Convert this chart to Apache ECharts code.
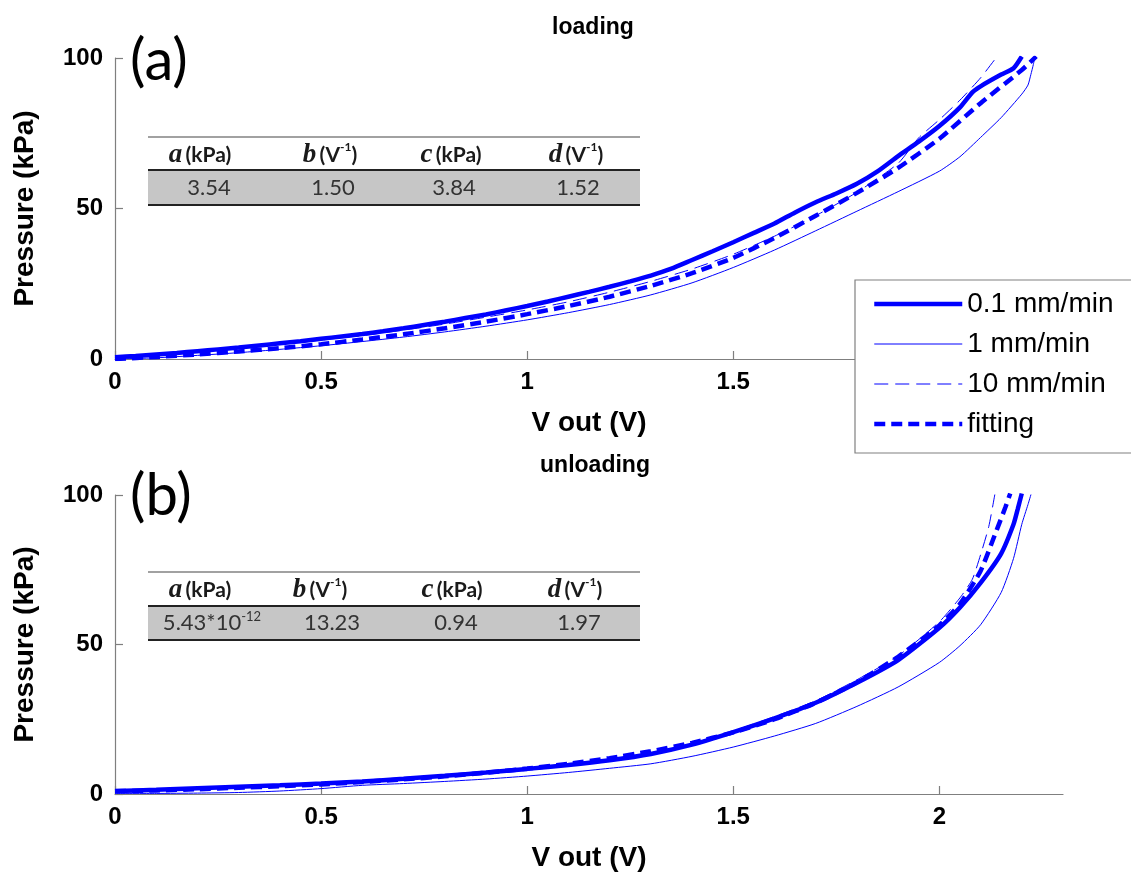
<!DOCTYPE html>
<html>
<head>
<meta charset="utf-8">
<script src="https://cdn.jsdelivr.net/npm/echarts@6/dist/echarts.min.js"></script>
<style>
  html, body { margin: 0; padding: 0; background: #fff; }
  #chart { width: 1131px; height: 873px; }
</style>
</head>
<body>
<div id="chart"></div>
<script>
// ---- Measured pressure vs. output voltage: [V out (V), Pressure (kPa)] ----
// (a) loading
const load01 = [[0,0.6],[0.05,1.0],[0.1,1.5],[0.15,2.0],[0.2,2.6],[0.25,3.2],[0.3,3.8],[0.35,4.5],[0.4,5.2],[0.45,5.9],[0.5,6.7],[0.55,7.5],[0.6,8.3],[0.65,9.2],[0.7,10.2],[0.75,11.3],[0.8,12.4],[0.85,13.6],[0.9,14.8],[0.95,16.2],[1.0,17.6],[1.05,19.1],[1.1,20.7],[1.15,22.3],[1.2,24.0],[1.25,25.8],[1.3,27.7],[1.35,30.0],[1.4,32.9],[1.45,35.8],[1.5,38.8],[1.55,41.9],[1.6,45.0],[1.65,48.7],[1.7,52.1],[1.75,55.0],[1.8,58.2],[1.85,62.3],[1.9,67.4],[1.95,72.2],[2.0,77.4],[2.05,83.6],[2.08,88.6],[2.1,90.6],[2.15,94.5],[2.18,96.6],[2.2,100.5]];
const load1 = [[0,0],[0.1,0.4],[0.2,1.2],[0.3,2.1],[0.4,3.2],[0.5,4.4],[0.6,5.8],[0.7,7.3],[0.8,9.0],[0.9,10.9],[1.0,13.0],[1.1,15.4],[1.2,18.1],[1.3,21.3],[1.4,25.3],[1.5,30.4],[1.6,36.2],[1.7,42.6],[1.8,49.1],[1.9,55.6],[2.0,62.4],[2.05,67.2],[2.1,73.6],[2.15,80.2],[2.2,88.0],[2.215,91.0],[2.222,94.5],[2.228,97.8],[2.232,100.5]];
const load10 = [[0,0.3],[0.1,1.2],[0.2,2.4],[0.3,3.6],[0.4,4.9],[0.5,6.3],[0.6,7.8],[0.7,9.6],[0.8,11.6],[0.9,13.9],[1.0,16.3],[1.1,19.0],[1.2,22.2],[1.3,25.8],[1.4,29.9],[1.5,34.8],[1.6,40.8],[1.7,47.6],[1.8,55.4],[1.9,65.0],[1.95,73.5],[2.0,79.5],[2.05,86.0],[2.1,93.4],[2.14,100.5]];
const loadFit = [[0,0],[0.1,0.7],[0.2,1.5],[0.3,2.5],[0.4,3.6],[0.5,4.9],[0.6,6.5],[0.7,8.2],[0.8,10.2],[0.9,12.4],[1.0,14.9],[1.1,17.6],[1.2,20.7],[1.3,24.3],[1.4,28.5],[1.5,33.6],[1.6,40.2],[1.7,47.6],[1.8,55.2],[1.9,63.5],[2.0,73.2],[2.1,85.0],[2.2,96.0],[2.235,100.5]];

// (b) unloading
const unload01 = [[0,1.0],[0.1,1.4],[0.2,1.9],[0.3,2.4],[0.4,2.9],[0.5,3.5],[0.6,4.2],[0.7,5.1],[0.8,6.1],[0.9,7.2],[1.0,8.4],[1.1,9.7],[1.2,11.3],[1.3,13.4],[1.4,16.5],[1.5,20.7],[1.6,25.3],[1.7,30.5],[1.8,37.2],[1.9,44.8],[2.0,55.6],[2.05,62.4],[2.1,70.6],[2.15,80.4],[2.18,90.2],[2.19,95.2],[2.2,100.5]];
const unload1 = [[0,0.2],[0.1,0.2],[0.2,0.3],[0.3,0.5],[0.4,1.0],[0.5,1.8],[0.6,2.9],[0.7,3.5],[0.8,4.2],[0.9,5.0],[1.0,6.0],[1.1,7.2],[1.2,8.6],[1.3,10.1],[1.4,12.6],[1.5,15.7],[1.6,19.4],[1.7,23.6],[1.8,29.3],[1.9,35.8],[2.0,44.0],[2.05,49.6],[2.1,56.6],[2.15,67.4],[2.18,78.8],[2.2,90.2],[2.215,96.8],[2.223,100.5]];
const unload10 = [[0,0.8],[0.1,1.3],[0.2,1.8],[0.3,2.3],[0.4,2.8],[0.5,3.4],[0.6,4.1],[0.7,5.0],[0.8,6.0],[0.9,7.1],[1.0,8.3],[1.1,9.7],[1.2,11.4],[1.3,13.6],[1.4,16.8],[1.5,21.1],[1.6,25.9],[1.7,31.2],[1.8,38.2],[1.9,46.2],[2.0,57.6],[2.05,65.6],[2.08,71.8],[2.1,80.0],[2.12,89.5],[2.135,100.5]];
const unloadFit = [[0,0.9],[0.1,1.2],[0.2,1.6],[0.3,2.1],[0.4,2.6],[0.5,3.2],[0.6,4.0],[0.7,4.9],[0.8,5.9],[0.9,7.1],[1.0,8.5],[1.1,10.1],[1.2,12.0],[1.3,14.3],[1.4,17.1],[1.5,20.6],[1.6,25.0],[1.7,30.5],[1.8,37.4],[1.9,45.9],[2.0,56.4],[2.05,63.6],[2.1,74.6],[2.14,88.6],[2.16,95.8],[2.172,100.5]];

// ---- Labels ----
const seriesNames = ['0.1 mm/min', '1 mm/min', '10 mm/min', 'fitting'];
const panelTitles = ['loading', 'unloading'];
const panelTags = ['(a)', '(b)'];
const xTicks = [0, 0.5, 1, 1.5, 2];
const yTicks = [0, 50, 100];
const paramSymbols = ['a', 'b', 'c', 'd'];
const paramUnits = ['kPa', 'V-1', 'kPa', 'V-1'];
const paramsLoading = ['3.54', '1.50', '3.84', '1.52'];
const paramsUnloading = ['5.43*10^-12', '13.23', '0.94', '1.97'];

const BLUE = '#0000ff';
const AXIS_GRAY = '#7f7f7f';
const SANS = 'Liberation Sans, Arial, sans-serif';
const CAL = 'Lato, "Open Sans", sans-serif';

// line styles per series
const styles = [
  { width: 4.5, type: 'solid' },
  { width: 1, type: 'solid' },
  { width: 1, type: [14, 7] },
  { width: 4.5, type: [11, 6] }
];

const grids = [
  { left: 115, top: 58, width: 948, height: 301 },
  { left: 115, top: 495, width: 948, height: 300 }
];

function xAxisFor(i) {
  return {
    type: 'value', gridIndex: i, min: 0, max: 2.3,
    axisLine: { show: true, onZero: false, lineStyle: { color: AXIS_GRAY, width: 1.2 } },
    axisTick: { show: true, inside: true, length: 8, customValues: xTicks, lineStyle: { color: AXIS_GRAY, width: 1.2 } },
    axisLabel: { customValues: xTicks, color: '#000', fontFamily: SANS, fontWeight: 'bold', fontSize: 24, margin: 11 },
    splitLine: { show: false },
    name: 'V out (V)', nameLocation: 'middle', nameGap: 50,
    nameTextStyle: { color: '#000', fontFamily: SANS, fontWeight: 'bold', fontSize: 28 }
  };
}
function yAxisFor(i) {
  return {
    type: 'value', gridIndex: i, min: 0, max: 100, interval: 50,
    axisLine: { show: true, onZero: false, lineStyle: { color: AXIS_GRAY, width: 1.2 } },
    axisTick: { show: true, inside: true, length: 8, customValues: yTicks, lineStyle: { color: AXIS_GRAY, width: 1.2 } },
    axisLabel: { customValues: yTicks, color: '#000', fontFamily: SANS, fontWeight: 'bold', fontSize: 24, margin: 12 },
    splitLine: { show: false },
    name: 'Pressure (kPa)', nameLocation: 'middle', nameGap: 76,
    nameTextStyle: { color: '#000', fontFamily: SANS, fontWeight: 'bold', fontSize: 28 }
  };
}

function lineSeries(name, data, gi, st) {
  return {
    type: 'line', name: name, data: data,
    xAxisIndex: gi, yAxisIndex: gi,
    symbol: 'none', showSymbol: false, smooth: 0.2, clip: true,
    lineStyle: { color: BLUE, width: st.width, type: st.type },
    itemStyle: { color: BLUE },
    emphasis: { disabled: true },
    animation: false
  };
}

const panelData = [
  [load01, load1, load10, loadFit],
  [unload01, unload1, unload10, unloadFit]
];
const series = [];
panelData.forEach((set, gi) => {
  set.forEach((d, k) => series.push(lineSeries(seriesNames[k], d, gi, styles[k])));
});

// ---- parameter tables ----
const richStyles = {
  v: { fontFamily: 'Liberation Serif, serif', fontStyle: 'italic', fontWeight: 'bold', fontSize: 27, lineHeight: 28, fill: '#1a1a1a', color: '#1a1a1a' },
  u: { fontFamily: CAL, fontWeight: 'bold', fontSize: 21, lineHeight: 28, fill: '#1a1a1a', color: '#1a1a1a' },
  s: { fontFamily: CAL, fontWeight: 'bold', fontSize: 12, lineHeight: 12, verticalAlign: 'top', fill: '#1a1a1a', color: '#1a1a1a' },
  n: { fontFamily: CAL, fontSize: 22, lineHeight: 26, fill: '#333', color: '#333' },
  e: { fontFamily: CAL, fontSize: 13, lineHeight: 13, verticalAlign: 'top', fill: '#333', color: '#333' }
};
function headText(sym, unit) {
  const u = unit === 'V-1' ? '{u|(V}{s|-1}{u|)}' : '{u|(' + unit + ')}';
  return '{v|' + sym + '} ' + u;
}
function valueText(v) {
  if (v.indexOf('^') >= 0) {
    const p = v.split('^');
    return '{n|' + p[0] + '}{e|' + p[1] + '}';
  }
  return '{n|' + v + '}';
}
function textEl(x, y, text) {
  return {
    type: 'text', z: 10,
    style: { x: x, y: y, text: text, rich: richStyles, align: 'center', verticalAlign: 'middle', textAlign: 'center', textVerticalAlign: 'middle' }
  };
}
function table(cfg) {
  const els = [];
  els.push({ type: 'rect', z: 5, shape: { x: 148, y: cfg.rowTop, width: 492, height: cfg.rowBottom - cfg.rowTop }, style: { fill: '#c6c6c6' } });
  els.push({ type: 'line', z: 6, shape: { x1: 148, y1: cfg.top, x2: 640, y2: cfg.top }, style: { stroke: '#444', lineWidth: 1.2 } });
  els.push({ type: 'line', z: 6, shape: { x1: 148, y1: cfg.rowTop, x2: 640, y2: cfg.rowTop }, style: { stroke: '#222', lineWidth: 2 } });
  els.push({ type: 'line', z: 6, shape: { x1: 148, y1: cfg.rowBottom, x2: 640, y2: cfg.rowBottom }, style: { stroke: '#222', lineWidth: 2 } });
  paramSymbols.forEach((s, i) => {
    els.push(textEl(cfg.headX[i], cfg.headY, headText(s, paramUnits[i])));
    els.push(textEl(cfg.valX[i], cfg.valY, valueText(cfg.values[i])));
  });
  return els;
}

const graphics = []
  .concat(table({ top: 137, headY: 155, rowTop: 170, rowBottom: 205, valY: 188,
                  headX: [200, 330, 451, 576], valX: [209, 333, 454, 578], values: paramsLoading }))
  .concat(table({ top: 572, headY: 590, rowTop: 606, rowBottom: 640, valY: 623,
                  headX: [200, 320, 452, 575], valX: [212, 332, 456, 579], values: paramsUnloading }));

[61, 496].forEach((cy, i) => {
  graphics.push({
    type: 'text', z: 10,
    style: { x: 130, y: cy, text: panelTags[i], fontFamily: CAL, fontSize: 58, fill: '#000',
             align: 'left', verticalAlign: 'middle', textAlign: 'left', textVerticalAlign: 'middle' }
  });
});

const chart = echarts.init(document.getElementById('chart'), null, { renderer: 'canvas' });
chart.setOption({
  backgroundColor: '#fff',
  animation: false,
  title: [
    { text: panelTitles[0], left: 588, top: 11, textAlign: 'center',
      textStyle: { fontFamily: SANS, fontWeight: 'bold', fontSize: 23, color: '#000' } },
    { text: panelTitles[1], left: 590, top: 449, textAlign: 'center',
      textStyle: { fontFamily: SANS, fontWeight: 'bold', fontSize: 23, color: '#000' } }
  ],
  grid: grids,
  xAxis: [xAxisFor(0), xAxisFor(1)],
  yAxis: [yAxisFor(0), yAxisFor(1)],
  legend: {
    orient: 'vertical', left: 855, top: 280,
    padding: [9, 40, 14, 17],
    backgroundColor: '#fff', borderColor: '#808080', borderWidth: 1.2, borderRadius: 0,
    itemWidth: 88, itemHeight: 14, itemGap: 10,
    selectedMode: false, z: 20,
    itemStyle: { opacity: 0 },
    textStyle: { fontFamily: SANS, fontSize: 28, color: '#000', lineHeight: 30 },
    data: seriesNames.map((n, k) => ({ name: n, lineStyle: { width: styles[k].width, type: styles[k].type, color: BLUE } }))
  },
  graphic: graphics,
  series: series
});
</script>
</body>
</html>
